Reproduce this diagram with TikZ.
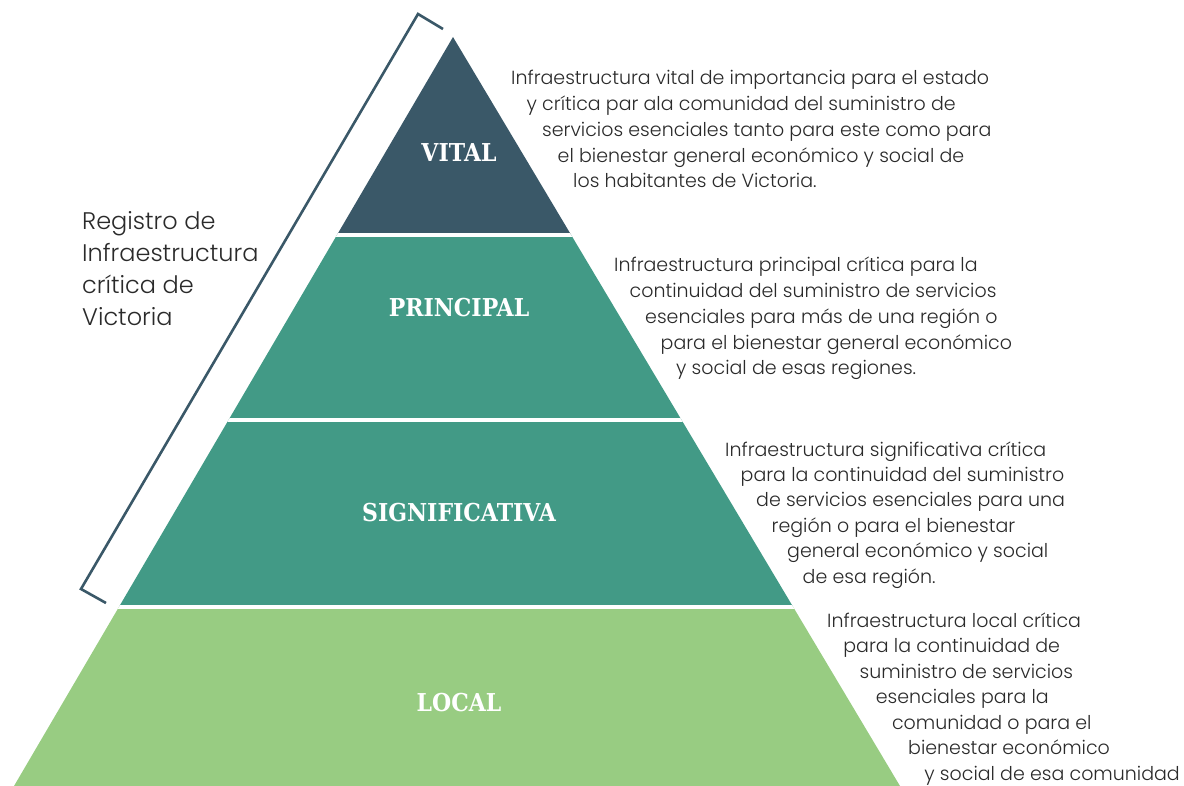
\documentclass[tikz,border=0pt]{standalone}
\usepackage{fontspec}
\setmainfont{Poppins}[UprightFont={* Light}]
\newfontfamily\slabfont{DejaVu Serif}

\definecolor{vitalc}{HTML}{3A5868}
\definecolor{midc}{HTML}{429A86}
\definecolor{localc}{HTML}{98CC82}
\definecolor{txtc}{HTML}{2A2A2A}

\tikzset{
  tier/.style={text=white, inner sep=0pt,
    font=\slabfont\bfseries\fontsize{22}{24}\selectfont},
  desc/.style={text=txtc, inner sep=0pt, anchor=base west,
    font=\fontsize{19}{22}\selectfont},
  side/.style={text=txtc, inner sep=0pt, anchor=base west,
    font=\fontsize{24}{30}\selectfont},
  bracket/.style={draw=vitalc, line width=2.6pt, line join=miter}
}

\begin{document}
\begin{tikzpicture}[x=1pt, y=-1pt]
\useasboundingbox (0,0) rectangle (1184,786);

% pyramid outline
\coordinate (apex) at (453,37);
\coordinate (bl) at (14,786);
\coordinate (br) at (900,786);

\begin{scope}
  \clip (apex) -- (bl) -- (br) -- cycle;
  \fill[vitalc] (0,0) rectangle (1184,235);
  \fill[midc] (0,235) rectangle (1184,607);
  \fill[localc] (0,607) rectangle (1184,786);
  % white separators between the tiers
  \draw[white, line width=4pt] (0,235) -- (1184,235);
  \draw[white, line width=4pt] (0,420) -- (1184,420);
  \draw[white, line width=4pt] (0,607) -- (1184,607);
\end{scope}

% tier names
\node[tier] (tvital) at (459,153) {\scalebox{1}[1.12]{VITAL}};
\node[tier] (tprincipal) at (459,308) {\scalebox{1}[1.12]{PRINCIPAL}};
\node[tier] (tsignif) at (459,513) {\scalebox{1}[1.12]{SIGNIFICATIVA}};
\node[tier] (tlocal) at (459,703) {\scalebox{1}[1.12]{LOCAL}};

% bracket spanning the three upper tiers
\coordinate (btop) at (418,14);
\coordinate (btopend) at (443,29);
\coordinate (bbot) at (81,589);
\coordinate (bbotend) at (106,603);
\draw[bracket] (btopend) -- (btop) -- (bbot) -- (bbotend);

% bracket caption
\foreach \t [count=\i] in {Registro de, Infraestructura, crítica de, Victoria}
  \node[side] (reg-\i) at ({82}, {230+32*(\i-1)}) {\t};

% descriptions, each line stepped along the pyramid slope
\foreach \t [count=\i] in {
  Infraestructura vital de importancia para el estado,
  y crítica par ala comunidad del suministro de,
  servicios esenciales tanto para este como para,
  el bienestar general económico y social de,
  los habitantes de Victoria.}
  \node[desc] (dvital-\i) at ({511+15.5*(\i-1)}, {85+25.7*(\i-1)}) {\t};

\foreach \t [count=\i] in {
  Infraestructura principal crítica para la,
  continuidad del suministro de servicios,
  esenciales para más de una región o,
  para el bienestar general económico,
  y social de esas regiones.}
  \node[desc] (dprincipal-\i) at ({614+15.5*(\i-1)}, {272+25.7*(\i-1)}) {\t};

\foreach \t [count=\i] in {
  Infraestructura significativa crítica,
  para la continuidad del suministro,
  de servicios esenciales para una,
  región o para el bienestar,
  general económico y social,
  de esa región.}
  \node[desc] (dsignif-\i) at ({725+15.5*(\i-1)}, {456+25.4*(\i-1)}) {\t};

\foreach \t [count=\i] in {
  Infraestructura local crítica,
  para la continuidad de,
  suministro de servicios,
  esenciales para la,
  comunidad o para el,
  bienestar económico,
  y social de esa comunidad}
  \node[desc] (dlocal-\i) at ({827+16.2*(\i-1)}, {627+25.5*(\i-1)}) {\t};

\end{tikzpicture}
\end{document}
